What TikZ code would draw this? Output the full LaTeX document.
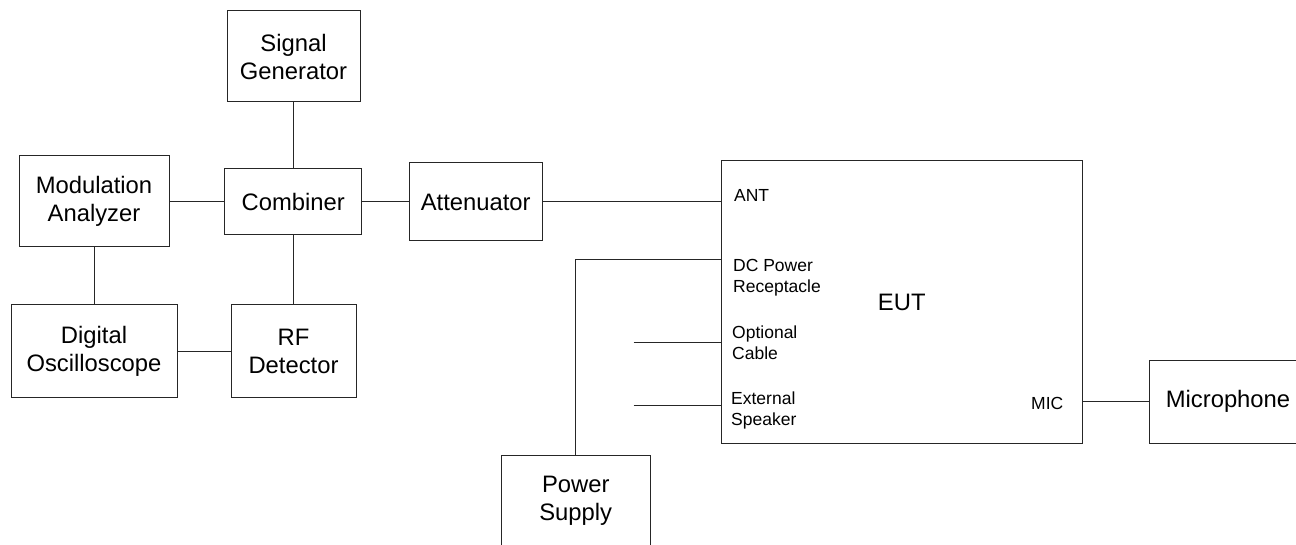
\documentclass[tikz,border=0pt]{standalone}
\usepackage{fontspec}
\setmainfont{Liberation Sans}
\begin{document}
\begin{tikzpicture}[x=1pt,y=-1pt,
  box/.style={draw=black!85, line width=1pt, align=center, font=\fontsize{23.8}{28}\selectfont, inner sep=0pt},
  wire/.style={draw=black!85, line width=1pt},
  lbl/.style={anchor=west, align=left, inner sep=0pt, font=\fontsize{17.5}{21}\selectfont}]
\useasboundingbox (0,0) rectangle (1296,545);
\clip (0,0) rectangle (1296,545);
\node[box, minimum width=133pt, minimum height=91pt] (sg) at (293.5,56.5) {Signal\\Generator};
\node[box, minimum width=137pt, minimum height=66pt] (comb) at (293.3,202) {Combiner};
\node[box, minimum width=133.5pt, minimum height=78pt] (att) at (475.75,202) {Attenuator};
\node[box, minimum width=150pt, minimum height=91pt] (mod) at (94,201.5) {Modulation\\Analyzer};
\node[box, minimum width=166pt, minimum height=92pt] (osc) at (94,351) {Digital\\Oscilloscope};
\node[box, minimum width=125pt, minimum height=92pt] (rf) at (293.5,351) {RF\\Detector};
\node[box, minimum width=361.5pt, minimum height=282pt] (eut) at (901.75,302) {EUT};
\node[box, minimum width=149.5pt, minimum height=91pt] (ps) at (575.75,500.5) {Power\\Supply};
\node[box, minimum width=158pt, minimum height=83pt] (mic) at (1228,401.5) {Microphone};
\node[lbl] (antl) at (733.9,195) {ANT};
\node[lbl] (dcl) at (733,278) {DC Power\\Receptacle};
\node[lbl] (optl) at (732,342.5) {Optional\\Cable};
\node[lbl] (spkl) at (731,410) {External\\Speaker};
\node[lbl] (micl) at (1031,403) {MIC};
\coordinate (opt) at (633.5,343);
\coordinate (spk) at (633.5,405.7);
\draw[wire] (sg.south) -- (sg.south |- comb.north);
\draw[wire] (comb.south) -- (comb.south |- rf.north);
\draw[wire] (mod.east) -- (mod.east -| comb.west);
\draw[wire] (comb.east) -- (att.west);
\draw[wire] (att.east) -- (att.east -| eut.west);
\draw[wire] (mod.south) -- (osc.north);
\draw[wire] (osc.east) -- (rf.west);
\draw[wire] (ps.north) |- (eut.west |- 0,260);
\draw[wire] (opt) -- (opt -| eut.west);
\draw[wire] (spk) -- (spk -| eut.west);
\draw[wire] (mic.west) -- (mic.west -| eut.east);
\end{tikzpicture}
\end{document}
